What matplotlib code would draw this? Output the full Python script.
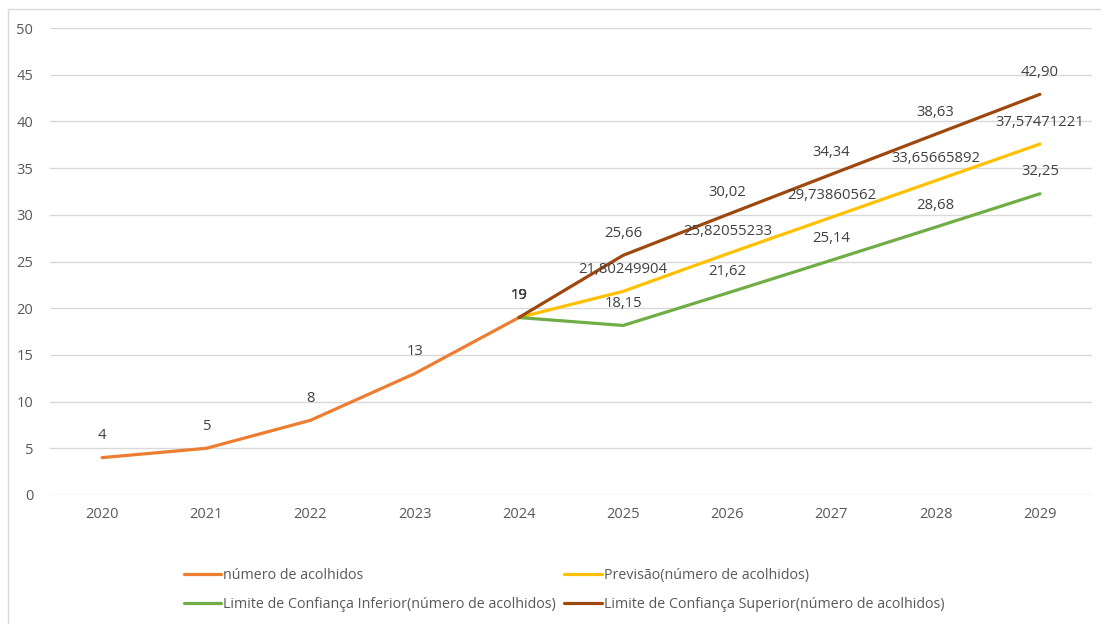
import matplotlib
matplotlib.use("Agg")
import matplotlib.pyplot as plt
from matplotlib.patches import Rectangle

plt.rcParams['font.family'] = ['Open Sans', 'DejaVu Sans']

#%% data
anos = [2020, 2021, 2022, 2023, 2024, 2025, 2026, 2027, 2028, 2029]
anos_hist = [2020, 2021, 2022, 2023, 2024]
acolhidos = [4, 5, 8, 13, 19]
anos_prev = [2024, 2025, 2026, 2027, 2028, 2029]
previsao = [19, 21.80249904, 25.82055233, 29.73860562, 33.65665892, 37.57471221]
lim_inf = [19, 18.15, 21.62, 25.14, 28.68, 32.25]
lim_sup = [19, 25.66, 30.02, 34.34, 38.63, 42.90]

nomes = ["número de acolhidos",
         "Previsão(número de acolhidos)",
         "Limite de Confiança Inferior(número de acolhidos)",
         "Limite de Confiança Superior(número de acolhidos)"]
cores = ["#ED7D31", "#FFC000", "#70AD47", "#9E480E"]
TXT = "#595959"
GRID = "#D9D9D9"

def fmt(v, casas):
    if float(v).is_integer():
        return str(int(v))
    return f"{v:.{casas}f}".replace(".", ",")

#%% figure
fig = plt.figure(figsize=(11.01, 6.24), dpi=100)
ax = fig.add_axes([50/1101, 1-495/624, (1092-50)/1101, (495-28)/624])

series = [
    (anos_hist, acolhidos, 0),
    (anos_prev, previsao, 8),
    (anos_prev, lim_inf, 2),
    (anos_prev, lim_sup, 2),
]
linhas = []
for (xs, ys, casas), nome, cor in zip(series, nomes, cores):
    ln, = ax.plot(xs, ys, color=cor, lw=2.3, solid_capstyle='round', label=nome, zorder=3)
    linhas.append(ln)
    for x, y in zip(xs, ys):
        ax.annotate(fmt(y, casas), (x, y), xytext=(0, 15.8), textcoords='offset points',
                    ha='center', va='center', fontsize=10.7, color="#404040", zorder=4)

ax.set_xlim(2019.5, 2029.5)
ax.set_ylim(0, 50)
ax.set_xticks(anos)
ax.set_xticklabels([str(a) for a in anos])
ax.set_yticks(range(0, 51, 5))
ax.tick_params(axis='both', length=0, colors=TXT, labelsize=10.5)
ax.tick_params(axis='y', pad=12)
ax.tick_params(axis='x', pad=9)
ax.grid(axis='y', color=GRID, lw=1)
ax.set_axisbelow(True)
for s in ax.spines.values():
    s.set_visible(False)

# legend: column 1 = historic + lower, column 2 = forecast + upper
ordem = [0, 2, 1, 3]
leg = fig.legend([linhas[i] for i in ordem], [nomes[i] for i in ordem],
                 loc='center', bbox_to_anchor=(564/1101, 1-590/624), ncol=2,
                 frameon=False, fontsize=10.3, handlelength=2.6, handletextpad=0.15,
                 columnspacing=0.6, labelspacing=1.0)
for t in leg.get_texts():
    t.set_color(TXT)

# chart border (left/top visible)
fig.add_artist(Rectangle((7.5/1101, -0.1), 1.2, 1.1-8.5/624, transform=fig.transFigure,
                         fill=False, ec=GRID, lw=1))

fig.savefig("out.png", dpi=100)
